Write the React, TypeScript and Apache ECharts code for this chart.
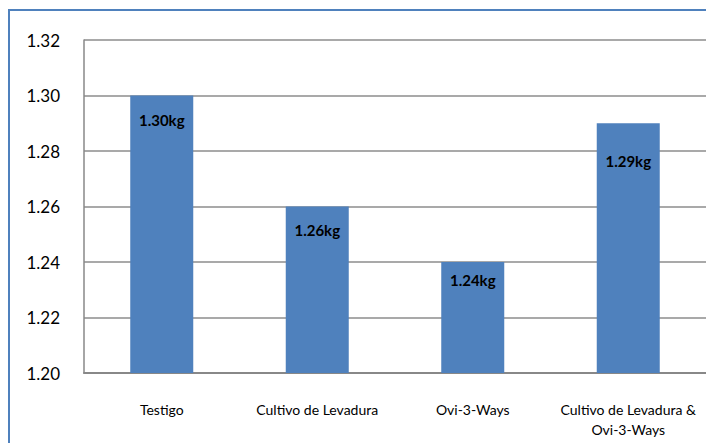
import React, { useEffect, useRef } from "react";
import * as echarts from "echarts";

const categories = ["Testigo", "Cultivo de Levadura", "Ovi-3-Ways", "Cultivo de Levadura &\nOvi-3-Ways"];
const values = [1.30, 1.26, 1.24, 1.29];
const labelTexts = ["1.30kg", "1.26kg", "1.24kg", "1.29kg"];
const labelOffsets = [12, 11, 5, 25];

export default function App() {
  const ref = useRef<HTMLDivElement>(null);
  useEffect(() => {
    if (!ref.current) return;
    const chart = echarts.init(ref.current, null, { renderer: "svg" });
    const font = "Lato, 'Open Sans', sans-serif";
    chart.setOption({
      animation: false,
      backgroundColor: "#ffffff",
      textStyle: { fontFamily: font },
      grid: { left: 84, top: 40, bottom: 70, right: -9, containLabel: false },
      xAxis: {
        type: "category",
        data: categories,
        axisLine: { show: true, lineStyle: { color: "#888888", width: 2 } },
        axisTick: { show: false },
        axisLabel: { color: "#000", fontSize: 14, fontFamily: font, margin: 26, lineHeight: 20, interval: 0 },
      },
      yAxis: {
        type: "value",
        min: 1.2,
        max: 1.32,
        interval: 0.02,
        axisLine: { show: true, lineStyle: { color: "#888888", width: 1.5 } },
        axisTick: { show: false },
        splitLine: { show: true, lineStyle: { color: "#8c8c8c", width: 1.5 } },
        axisLabel: {
          color: "#000",
          fontSize: 17,
          fontFamily: font,
          margin: 24,
          formatter: (v: number) => v.toFixed(2),
        },
      },
      series: [
        {
          type: "bar",
          barWidth: 63,
          data: values.map((v, i) => ({
            value: v,
            label: {
              show: true,
              position: "insideTop",
              offset: [0, labelOffsets[i]],
              formatter: labelTexts[i],
            },
          })),
          itemStyle: { color: "#4F81BD" },
          label: { color: "#000", fontWeight: "bold", fontSize: 15, fontFamily: font },
        },
      ],
      graphic: [
        { type: "line", shape: { x1: 9, y1: 10, x2: 9, y2: 443 }, style: { stroke: "#4F81BD", lineWidth: 2 } },
        { type: "line", shape: { x1: 8, y1: 10, x2: 706, y2: 10 }, style: { stroke: "#4F81BD", lineWidth: 2 } },
      ],
    });
    return () => chart.dispose();
  }, []);
  return <div ref={ref} style={{ position: "fixed", left: 0, top: 0, width: 706, height: 443 }} />;
}
